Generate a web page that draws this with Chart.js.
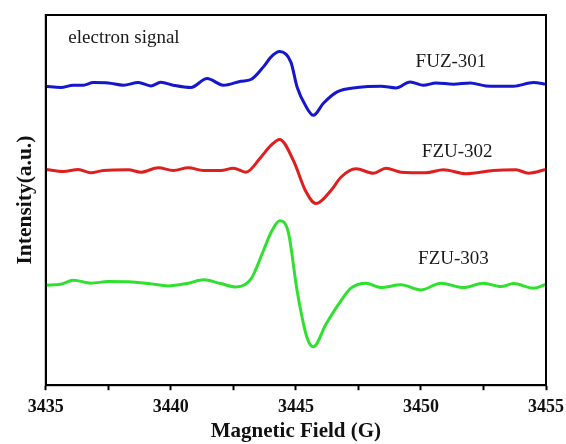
<!DOCTYPE html>
<html>
<head>
<meta charset="utf-8">
<script src="https://cdn.jsdelivr.net/npm/chart.js@4/dist/chart.umd.min.js"></script>
<style>
  body { margin: 0; background: #fff; }
  #wrap { width: 566px; height: 444px; }
</style>
</head>
<body>
<div id="wrap"><canvas id="epr"></canvas></div>
<script>
// field (G) and intensity (a.u.)
const field301 = [3435, 3435.6, 3436.1, 3436.5, 3436.9, 3437.5, 3438.1, 3438.7, 3439.2, 3439.6, 3440.1, 3440.8, 3441.45, 3442.1, 3442.8, 3443.2, 3443.7, 3444.0, 3444.35, 3444.8, 3445.05, 3445.4, 3445.7, 3446.1, 3446.65, 3447.45, 3448.4, 3449.0, 3449.57, 3450.1, 3450.6, 3451.3, 3451.97, 3452.6, 3453.7, 3454.5, 3455];
const fuz301 = [298, 296.7, 299, 299, 301.7, 301.3, 299, 301.7, 298.3, 302, 299, 296.7, 305.7, 299, 303, 304.7, 317.3, 327, 332.5, 322, 297, 278, 269, 281, 292.3, 296.7, 298, 296.3, 302.3, 299, 301.3, 300, 301.3, 298.3, 298, 301.7, 300];

const field302 = [3435, 3435.7, 3436.3, 3436.8, 3437.3, 3438.3, 3438.8, 3439.5, 3440.1, 3440.7, 3441.3, 3442.0, 3442.5, 3443.0, 3443.6, 3444.0, 3444.35, 3444.9, 3445.4, 3445.8, 3446.4, 3446.8, 3447.4, 3448.1, 3448.6, 3449.2, 3450.2, 3450.9, 3451.8, 3452.9, 3453.8, 3454.3, 3455];
const fzu302 = [215, 213, 215, 211.7, 214, 214.7, 212.3, 216.7, 214, 216.7, 214, 214, 216.3, 212.3, 227.3, 239, 245, 224, 193, 181, 194, 207.3, 215.7, 211.3, 216.3, 212.3, 211.7, 214.7, 210.7, 214, 214.7, 211.3, 215];

const field303 = [3435, 3435.6, 3436.1, 3436.8, 3437.5, 3438.3, 3439.1, 3439.9, 3440.7, 3441.3, 3442.0, 3442.6, 3443.2, 3443.7, 3444.0, 3444.35, 3444.7, 3445.05, 3445.45, 3445.7, 3446.2, 3446.8, 3447.2, 3447.8, 3448.4, 3449.2, 3450.0, 3450.8, 3451.7, 3452.5, 3453.2, 3453.7, 3454.5, 3455];
const fzu303 = [99.7, 100.7, 104.7, 101.7, 103.3, 103, 101.3, 99, 101.7, 105, 101.3, 98, 105.7, 134, 152, 164, 152, 94, 47, 38.3, 60.7, 84, 96.7, 101.7, 97.3, 100, 95, 101.7, 97.3, 101.7, 98.3, 101.3, 96.7, 100.7];

// in-plot text labels
const noteText = ['electron signal', 'FUZ-301', 'FZU-302', 'FZU-303'];
const noteField = [3435.9, 3451.2, 3451.45, 3451.3];
const noteLevel = [346, 322.5, 232.5, 125.5];
const noteAlign = ['left', 'center', 'center', 'center'];

const serif = '"Liberation Serif", "Times New Roman", serif';

function pts(xs, ys) {
    return xs.map((x, i) => ({ x: x, y: ys[i] }));
}

const framePlugin = {
    id: 'frame',
    afterDraw(chart) {
        const { ctx, chartArea: a, scales } = chart;
        ctx.save();
        ctx.strokeStyle = '#000';
        ctx.lineWidth = 2;
        ctx.strokeRect(a.left, a.top, a.right - a.left, a.bottom - a.top);

        ctx.fillStyle = '#1a1a1a';
        ctx.font = '19px ' + serif;
        ctx.textBaseline = 'middle';
        noteText.forEach((t, i) => {
            ctx.textAlign = noteAlign[i];
            ctx.fillText(t, scales.x.getPixelForValue(noteField[i]), scales.y.getPixelForValue(noteLevel[i]));
        });
        ctx.restore();
    }
};

const line = (label, xs, ys, color) => ({
    label: label,
    data: pts(xs, ys),
    borderColor: color,
    borderWidth: 3,
    pointRadius: 0,
    fill: false,
    cubicInterpolationMode: 'monotone'
});

new Chart(document.getElementById('epr'), {
    type: 'line',
    data: {
        datasets: [
            line('FUZ-301', field301, fuz301, '#1616cc'),
            line('FZU-302', field302, fzu302, '#dd1f1f'),
            line('FZU-303', field303, fzu303, '#2fe02f')
        ]
    },
    options: {
        responsive: true,
        maintainAspectRatio: false,
        animation: false,
        layout: { padding: { top: 15, right: 20, left: 0, bottom: 0 } },
        plugins: {
            legend: { display: false },
            tooltip: { enabled: false }
        },
        scales: {
            x: {
                type: 'linear',
                min: 3435,
                max: 3455,
                border: { color: '#000', width: 2 },
                grid: { display: true, drawOnChartArea: false, color: '#000', tickLength: 5, tickWidth: 2 },
                ticks: {
                    stepSize: 2.5,
                    autoSkip: false,
                    maxRotation: 0,
                    padding: 6,
                    color: '#111',
                    font: { family: serif, size: 18, weight: 'bold' },
                    callback: v => (v % 5 === 0 ? v : '')
                },
                title: {
                    display: true,
                    text: 'Magnetic Field (G)',
                    color: '#111',
                    font: { family: serif, size: 21, weight: 'bold' },
                    padding: { top: -5, bottom: 0 }
                },
                afterFit(scale) {
                    // let the layout padding decide the side margins
                    scale.paddingLeft = 0;
                    scale.paddingRight = 0;
                }
            },
            y: {
                min: 0,
                max: 369,
                border: { color: '#000', width: 2 },
                grid: { display: false, drawTicks: false, tickLength: 0 },
                ticks: { display: false },
                title: {
                    display: true,
                    text: 'Intensity(a.u.)',
                    color: '#111',
                    font: { family: serif, size: 21.5, weight: 'bold' },
                    padding: { top: 13, bottom: 7 }
                }
            }
        }
    },
    plugins: [framePlugin]
});
</script>
</body>
</html>
